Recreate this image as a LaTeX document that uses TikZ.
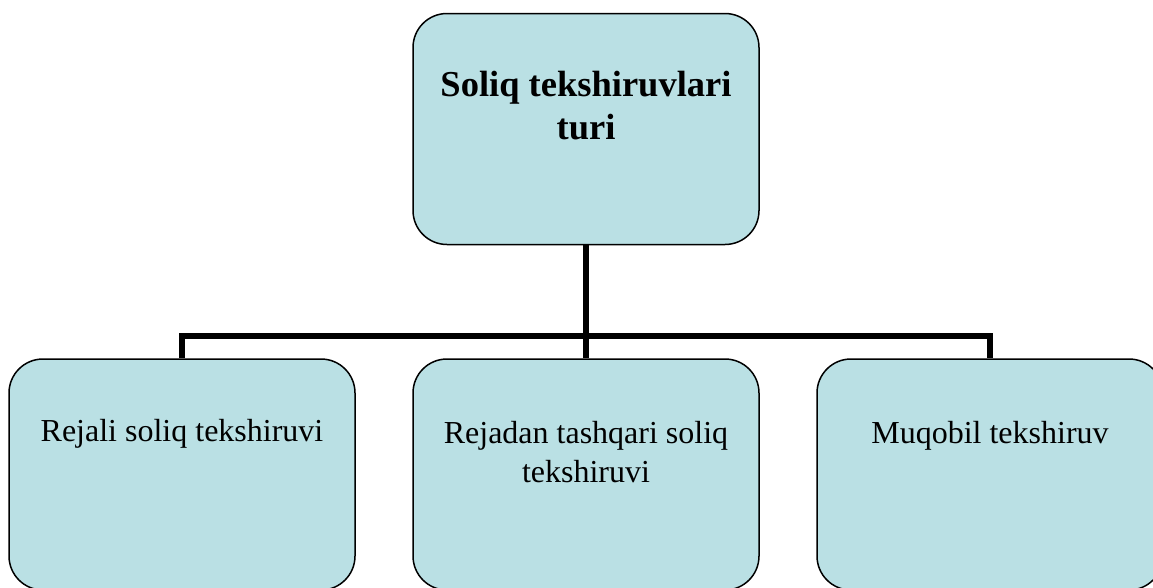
\documentclass[tikz,border=0pt]{standalone}
\usepackage{fontspec}
\setmainfont{Liberation Serif}
\usetikzlibrary{calc,backgrounds}
\definecolor{boxfill}{RGB}{186,224,228}
\tikzset{
  box/.style={draw=black, line width=1.5pt, fill=boxfill, rounded corners=34pt,
    minimum width=346pt, minimum height=231pt, inner sep=0pt},
  head/.style={anchor=north, inner sep=0pt, align=center,
    font=\fontsize{36.5}{43}\selectfont\bfseries},
  item/.style={anchor=north, inner sep=0pt, align=center,
    font=\fontsize{32}{39}\selectfont},
  conn/.style={line width=6pt, draw=black},
}
\begin{document}
\begin{tikzpicture}[x=1pt,y=-1pt]
\useasboundingbox (0,0) rectangle (1153,587);
\clip (0,0) rectangle (1153,587);

% boxes
\node[box] (top)   at (586,129)   {};
\node[box] (left)  at (182,474.5) {};
\node[box] (mid)   at (586,474.5) {};
\node[box] (right) at (990,474.5) {};

% labels
\node[head] (toptext)   at ($(top.north)+(0,58)$)   {Soliq tekshiruvlari\\turi};
\node[item] (lefttext)  at ($(left.north)+(0,61)$)  {Rejali soliq tekshiruvi};
\node[item] (midtext)   at ($(mid.north)+(0,63)$)   {Rejadan tashqari soliq\\tekshiruvi};
\node[item] (righttext) at ($(right.north)+(0,63)$) {Muqobil tekshiruv};

% tree connectors behind the boxes
\coordinate (bus) at (586,336);
\begin{scope}[on background layer]
  \fill[white] (0,0) rectangle (1153,587);
  \draw[conn] (top.south) -- (bus);
  \draw[conn] (left.north) |- (bus) -| (right.north);
  \draw[conn] (bus) -- (mid.north);
\end{scope}
\end{tikzpicture}
\end{document}
